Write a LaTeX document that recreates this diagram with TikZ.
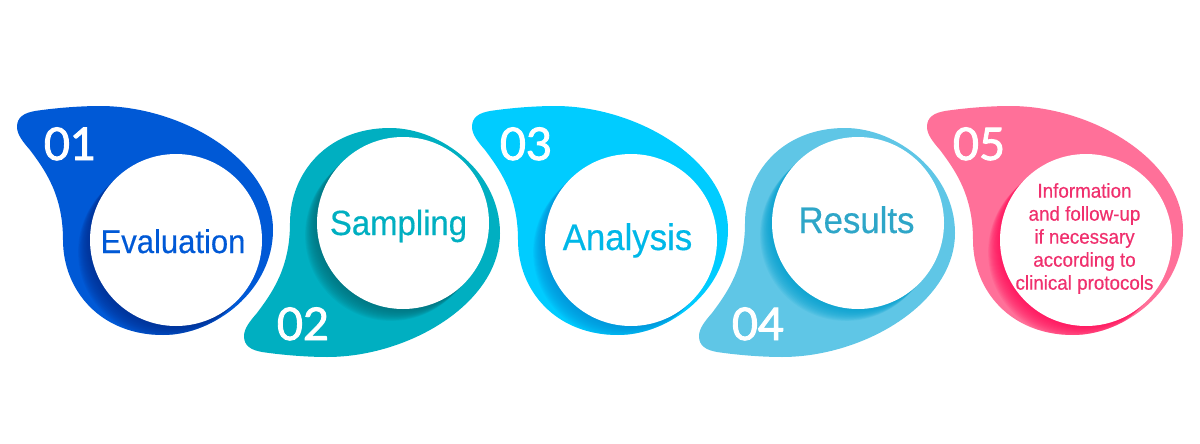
\documentclass[tikz,border=0pt]{standalone}
\usepackage{fontspec}
\setmainfont{Liberation Sans}
\newfontfamily\numfont[FakeBold=2]{Lato}
\newfontfamily\labfont[FakeStretch=0.94,FakeBold=0.4]{Liberation Sans}
\definecolor{bA}{HTML}{0059D6}\definecolor{dA}{HTML}{002F90}
\definecolor{bB}{HTML}{00AFC1}\definecolor{dB}{HTML}{006F7A}
\definecolor{bC}{HTML}{00CCFF}\definecolor{dC}{HTML}{0090D8}
\definecolor{bD}{HTML}{5FC6E6}\definecolor{dD}{HTML}{00A0D0}
\definecolor{bE}{HTML}{FF7099}\definecolor{dE}{HTML}{FF0A58}
\definecolor{tC}{HTML}{00B8E8}\definecolor{tD}{HTML}{2EA6C8}\definecolor{tE}{HTML}{F0306E}
\newcommand{\blobpath}{(17,127) .. controls (17,117) and (24,113) .. (35,111)
 .. controls (55,108) and (80,106) .. (100,106)
 .. controls (182,106) and (273,160) .. (273,230)
 .. controls (273,290) and (215,335) .. (163,335)
 .. controls (100,335) and (63,290) .. (63,240)
 .. controls (63,195) and (45,170) .. (30,150)
 .. controls (24,143) and (17,135) .. (17,127) -- cycle}
% #1 transform, #2 fill, #3 shadow, #4 vertical sign of the shadow in local coordinates
\newcommand{\drop}[4]{%
 \begin{scope}[#1]
  \fill[#2] \blobpath;
  \begin{scope}
   \clip \blobpath;
   \foreach \i in {1,...,14}
    \fill[#3,opacity=.1] ({176-\i*0.85},{240+#4*\i*0.85}) circle[radius=86];
  \end{scope}
 \end{scope}}
\tikzset{
 disc/.style={circle,fill=white,inner sep=0pt,minimum size=172pt},
 num/.style={text=white,anchor=base,inner sep=0pt,font=\numfont\fontsize{45}{45}\selectfont},
 lab/.style={anchor=base,inner sep=0pt,font=\labfont\fontsize{33}{36}\selectfont},
 labbig/.style={lab,font=\labfont\fontsize{#1}{40}\selectfont},
}
\begin{document}
\begin{tikzpicture}[x=1pt,y=-1pt]
\useasboundingbox (0,0) rectangle (1200,444);
\drop{shift={(0,0)}}{bA}{dA}{1}
\drop{shift={(227,463)},yscale=-1}{bB}{dB}{-1}
\drop{shift={(455,0)}}{bC}{dC}{1}
\drop{shift={(682,463)},yscale=-1}{bD}{dD}{-1}
\drop{shift={(910,0)}}{bE}{dE}{1}
\node[disc] (c1) at (176,240) {};
\node[disc] (c2) at (403,223) {};
\node[disc] (c3) at (631,240) {};
\node[disc] (c4) at (858,223) {};
\node[disc] (c5) at (1086,240) {};
\node[num] (n1) at (70,160) {01};
\node[num] (n2) at (303,340) {02};
\node[num] (n3) at (526,160) {03};
\node[num] (n4) at (758,340) {04};
\node[num] (n5) at (979,160) {05};
\node[lab,text=bA] (l1) at (173,253) {Evaluation};
\node[labbig=35,text=bB] (l2) at (398.5,235) {Sampling};
\node[labbig=37,text=tC] (l3) at (627.5,250) {Analysis};
\node[labbig=37,text=tD] (l4) at (856.5,233) {Results};
\node[text=tE,align=center,inner sep=0pt,font=\labfont\fontsize{20}{23}\selectfont] (l5) at (1084.5,238.5)
 {Information\\and follow-up\\if necessary\\according to\\clinical protocols};
\end{tikzpicture}
\end{document}
